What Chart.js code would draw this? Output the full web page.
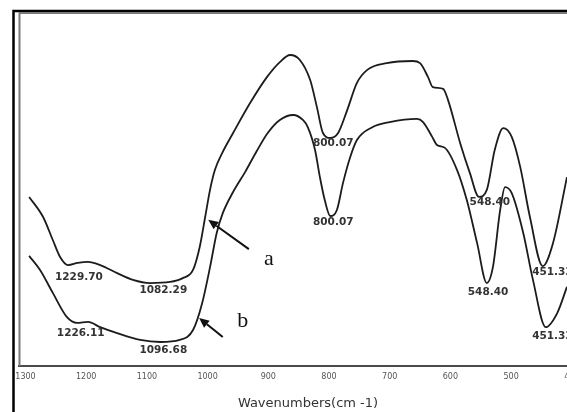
<!DOCTYPE html>
<html>
<head>
<meta charset="utf-8">
<script src="https://cdn.jsdelivr.net/npm/chart.js@4.4.0/dist/chart.umd.min.js"></script>
<style>
html, body { margin: 0; padding: 0; background: #fff; overflow: hidden; }
#wrap { width: 620px; height: 412px; }
</style>
</head>
<body>
<div id="wrap"><canvas id="ftir" width="620" height="412"></canvas></div>
<script>
// Spectrum a (upper trace)
var waveA = [1294, 1271, 1255, 1243, 1230, 1214, 1197, 1177, 1149, 1123, 1095, 1062, 1041, 1024, 1013, 1004, 996, 988, 976, 958, 930, 902, 881, 864, 848, 831, 820, 810, 798, 785, 770, 754, 737, 705, 662, 650, 637, 629, 612, 604, 584, 568, 553, 540, 527, 513, 499, 485, 469, 448, 431, 408];
var transA = [47.9, 42.2, 35.7, 30.9, 28.6, 29.2, 29.5, 28.6, 26.3, 24.4, 23.5, 23.8, 24.9, 27.2, 33.7, 42.2, 49.9, 55.5, 60.3, 66.0, 74.5, 81.9, 86.1, 88.1, 86.7, 81.0, 73.4, 66.0, 64.6, 66.0, 72.5, 80.2, 83.9, 85.8, 86.4, 85.8, 81.9, 79.0, 78.5, 75.4, 63.2, 54.7, 47.9, 49.9, 61.2, 67.4, 64.9, 56.4, 42.2, 28.3, 34.8, 53.5];

// Spectrum b (lower trace)
var waveB = [1294, 1276, 1255, 1232, 1215, 1197, 1177, 1149, 1111, 1078, 1046, 1024, 1009, 996, 985, 975, 958, 938, 919, 901, 881, 859, 843, 835, 823, 815, 807, 798, 787, 777, 765, 754, 728, 700, 655, 645, 630, 622, 609, 589, 573, 556, 540, 530, 518, 510, 499, 480, 464, 443, 424, 408];
var transB = [31.2, 27.2, 20.7, 13.9, 12.2, 12.5, 11.0, 9.3, 7.4, 6.8, 7.4, 10.2, 17.8, 28.0, 37.7, 43.3, 49.3, 55.0, 60.9, 66.0, 69.7, 71.1, 69.7, 67.7, 61.2, 53.5, 47.0, 42.5, 44.2, 51.8, 59.2, 64.0, 67.7, 69.1, 70.0, 69.1, 64.9, 62.6, 61.8, 55.5, 47.0, 34.8, 23.5, 28.0, 44.2, 50.7, 49.0, 37.7, 24.4, 11.0, 15.0, 22.4];

var tickValues = [1300, 1200, 1100, 1000, 900, 800, 700, 600, 500, 400];

// Peak labels, placed in data units (wavenumber, transmittance)
var peakText = ["1229.70", "1082.29", "1226.11", "1096.68", "800.07", "800.07", "548.40", "548.40", "451.33", "451.33"];
var peakWave = [1212, 1073, 1209, 1073, 793, 793, 535, 538, 432, 432];
var peakTrans = [25.1, 21.4, 9.2, 4.5, 63.2, 40.8, 46.3, 20.8, 26.6, 8.5];

// Arrows pointing at the traces (tail / tip / letter, in data units)
var arrowLetters = ["a", "b"];
var arrowTail = [[932, 33.1], [975, 8.2]];
var arrowTip = [[999, 41.4], [1014, 13.6]];
var letterPos = [[899, 28.6], [942, 11.0]];

function pairs(xs, ys) {
    return xs.map(function (x, i) { return {x: x, y: ys[i]}; });
}

var notes = {
    id: 'notes',
    afterDraw: function (chart) {
        var ctx = chart.ctx, xs = chart.scales.x, ys = chart.scales.y, ca = chart.chartArea;
        ctx.save();
        // outer frame
        ctx.strokeStyle = '#000';
        ctx.lineWidth = 2.5;
        ctx.beginPath();
        ctx.moveTo(13.5, 412);
        ctx.lineTo(13.5, 11);
        ctx.lineTo(620, 11);
        ctx.stroke();
        // inner plot box (left and top)
        ctx.strokeStyle = '#7a7a7a';
        ctx.lineWidth = 2;
        ctx.beginPath();
        ctx.moveTo(ca.left + 0.5, ca.bottom);
        ctx.lineTo(ca.left + 0.5, ca.top);
        ctx.lineTo(ca.right, ca.top);
        ctx.stroke();

        // peak labels
        ctx.fillStyle = '#333';
        ctx.font = 'bold 10.5px "DejaVu Sans"';
        ctx.textAlign = 'center';
        ctx.textBaseline = 'middle';
        peakText.forEach(function (t, i) {
            ctx.fillText(t, xs.getPixelForValue(peakWave[i]), ys.getPixelForValue(peakTrans[i]));
        });

        // arrows and letters
        ctx.strokeStyle = '#111';
        ctx.fillStyle = '#111';
        ctx.lineWidth = 2;
        arrowLetters.forEach(function (l, i) {
            var x0 = xs.getPixelForValue(arrowTail[i][0]), y0 = ys.getPixelForValue(arrowTail[i][1]);
            var x1 = xs.getPixelForValue(arrowTip[i][0]), y1 = ys.getPixelForValue(arrowTip[i][1]);
            var ang = Math.atan2(y1 - y0, x1 - x0);
            var hl = 10, hw = 4.5;
            var bx = x1 - hl * Math.cos(ang), by = y1 - hl * Math.sin(ang);
            ctx.beginPath();
            ctx.moveTo(x0, y0);
            ctx.lineTo(bx, by);
            ctx.stroke();
            ctx.beginPath();
            ctx.moveTo(x1, y1);
            ctx.lineTo(bx + hw * Math.sin(ang), by - hw * Math.cos(ang));
            ctx.lineTo(bx - hw * Math.sin(ang), by + hw * Math.cos(ang));
            ctx.closePath();
            ctx.fill();

            ctx.font = '22px "Liberation Serif"';
            ctx.textAlign = 'center';
            ctx.textBaseline = 'alphabetic';
            ctx.fillText(l, xs.getPixelForValue(letterPos[i][0]), ys.getPixelForValue(letterPos[i][1]));
        });
        ctx.restore();
    }
};

var ctx = document.getElementById('ftir').getContext('2d');

var chart = new Chart(ctx, {
    type: 'line',
    data: {
        datasets: [{
            label: 'a',
            data: pairs(waveA, transA),
            borderColor: '#1c1c1c',
            borderWidth: 1.8,
            pointRadius: 0,
            fill: false,
            cubicInterpolationMode: 'monotone'
        }, {
            label: 'b',
            data: pairs(waveB, transB),
            borderColor: '#1c1c1c',
            borderWidth: 1.8,
            pointRadius: 0,
            fill: false,
            cubicInterpolationMode: 'monotone'
        }]
    },
    options: {
        responsive: false,
        animation: false,
        devicePixelRatio: 1,
        layout: {padding: {top: 13, left: 19, right: 23, bottom: 0}},
        plugins: {legend: {display: false}, tooltip: {enabled: false}},
        scales: {
            x: {
                type: 'linear',
                reverse: true,
                min: 358.5,
                max: 1310.7,
                afterBuildTicks: function (s) { s.ticks = tickValues.map(function (v) { return {value: v}; }); },
                afterFit: function (s) { s.height = 46; },
                grid: {display: false, drawTicks: false},
                border: {display: true, color: '#4a4a4a', width: 2},
                ticks: {
                    font: {family: 'DejaVu Sans', size: 8},
                    color: '#555',
                    padding: 6,
                    maxRotation: 0,
                    autoSkip: false,
                    callback: function (v) { return String(v); }
                },
                title: {
                    display: true,
                    text: 'Wavenumbers(cm -1)',
                    font: {family: 'DejaVu Sans', size: 13},
                    color: '#333',
                    padding: {top: 0, bottom: 1}
                }
            },
            y: {
                display: false,
                min: 0,
                max: 100
            }
        }
    },
    plugins: [notes]
});
</script>
</body>
</html>
